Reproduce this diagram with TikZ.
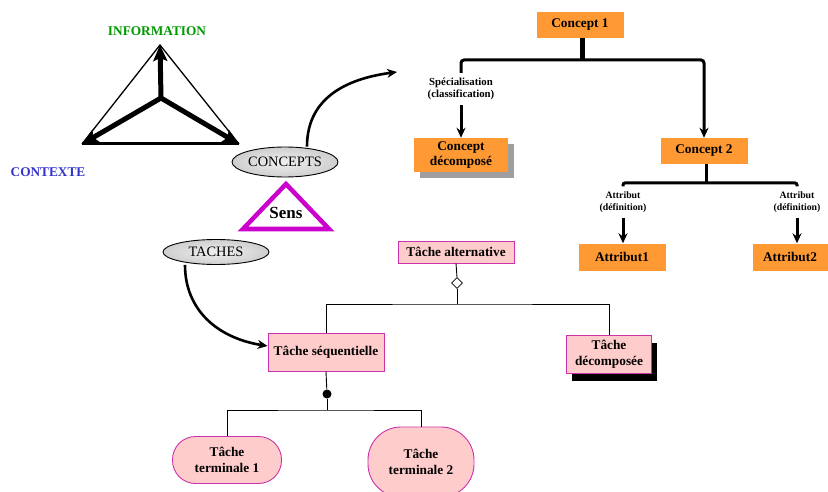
\documentclass[tikz,border=0pt]{standalone}
\usepackage{fontspec}
\setmainfont{Liberation Serif}
\usepackage{xcolor}
\usetikzlibrary{shapes,arrows,arrows.meta,positioning,shadows}

\definecolor{conceptorange}{RGB}{255,153,51}
\definecolor{tachepink}{RGB}{255,204,204}
\definecolor{tacheborder}{RGB}{204,51,170}
\definecolor{sensmagenta}{RGB}{204,0,204}
\definecolor{infogreen}{RGB}{0,153,0}
\definecolor{contexteblue}{RGB}{51,51,204}

\begin{document}
\begin{tikzpicture}[
    x=1pt, y=-1pt,
    concept/.style={rectangle, fill=conceptorange, minimum width=87pt, minimum height=26pt, inner sep=2pt, align=center, font=\bfseries\fontsize{13.3}{15}\selectfont},
    tache/.style={rectangle, draw=tacheborder, fill=tachepink, line width=0.9pt, inner sep=2pt, align=center, font=\bfseries\fontsize{13.3}{16}\selectfont},
    terminal/.style={tache, rounded corners=23pt, minimum width=109pt, minimum height=47pt},
    oval/.style={ellipse, draw, line width=0.9pt, inner color=gray!12, outer color=gray!38, minimum width=106pt, inner sep=0pt, font=\fontsize{14.4}{16}\selectfont},
    lbl/.style={align=center, inner sep=5pt, font=\bfseries\fontsize{10.8}{12}\selectfont},
    title/.style={font=\bfseries\fontsize{13.3}{15}\selectfont},
    thickarrow/.style={line width=5pt, -{Stealth[length=16pt, width=14pt, inset=3pt]}},
    curvearrow/.style={line width=2.6pt, -{Stealth[length=10pt, width=9pt]}},
    branch/.style={line width=3pt},
    branch arrow/.style={branch, -{Stealth[length=10pt, width=9pt]}},
    link/.style={line width=0.9pt}
]
    \useasboundingbox (0,0) rectangle (828,492);
    \clip (0,0) rectangle (828,492);

    \coordinate (tritop) at (160,45);
    \coordinate (trileft) at (82,144);
    \coordinate (triright) at (239,144);
    \coordinate (tricentre) at (161,98);
    \draw[line width=1.3pt] (trileft) -- (tritop) -- (triright);
    \draw[line width=3pt] (trileft) -- (triright);
    \draw[thickarrow] (tricentre) -- (tritop);
    \draw[thickarrow] (tricentre) -- (trileft);
    \draw[thickarrow] (tricentre) -- (triright);

    \node[title, text=infogreen] (information) at (157,31) {INFORMATION};
    \node[title, text=contexteblue] (contexte) at (48,172) {CONTEXTE};

    \node[oval, minimum height=30pt] (concepts) at (285,162) {CONCEPTS};
    \node[oval, minimum height=25pt] (taches) at (216,252) {TACHES};
    \node[font=\bfseries\fontsize{17}{19}\selectfont] (sens) at (286,213) {Sens};
    \draw[sensmagenta, line width=4.5pt] (286,184) -- (329,229) -- (243,229) -- cycle;

    \node[concept] (concept1) at (580,25) {Concept 1};
    \node[lbl] (spec) at (461,89) {Spécialisation\\(classification)};
    \node[concept, minimum width=94pt, minimum height=34pt, drop shadow={shadow xshift=6pt, shadow yshift=-6pt, fill=gray!75, opacity=1}] (conceptdec) at (461,155) {Concept\\décomposé};
    \node[concept] (concept2) at (704,151) {Concept 2};
    \node[lbl, font=\bfseries\fontsize{9.8}{12}\selectfont] (defA) at (623,202) {Attribut\\(définition)};
    \node[lbl, font=\bfseries\fontsize{9.8}{12}\selectfont] (defB) at (797,202) {Attribut\\(définition)};
    \node[concept, minimum height=27pt] (attr1) at (622,257) {Attribut1};
    \node[concept, minimum width=75pt, minimum height=27pt] (attr2) at (790,257) {Attribut2};

    \coordinate (c1fork) at (582,60);
    \coordinate (c2fork) at (706,183);
    \draw[line width=5pt] (c1fork |- concept1.south) -- (c1fork);
    \draw[branch arrow, rounded corners=3pt] (spec.north) |- (c1fork) -| (concept2.north);
    \draw[branch arrow] (spec.south) -- (conceptdec.north);
    \draw[branch] (c2fork |- concept2.south) -- (c2fork);
    \draw[branch, rounded corners=2pt] (defA.north) |- (c2fork) -| (defB.north);
    \draw[branch arrow] (defA.south) -- (defA.south |- attr1.north);
    \draw[branch arrow] (defB.south) -- (defB.south |- attr2.north);

    \coordinate (concepttip) at (397,72);
    \draw[curvearrow] ([xshift=22pt]concepts.north) .. controls +(0,-52) and +(-45,6) .. (concepttip);

    \node[tache, minimum width=116pt, minimum height=22pt] (tachealt) at (456,252) {Tâche alternative};
    \node[diamond, draw, fill=white, line width=0.8pt, inner sep=0pt, minimum size=11pt] (choice) at (457,283) {};
    \node[tache, minimum width=116pt, minimum height=38pt] (tacheseq) at (326,352) {Tâche séquentielle};
    \node[tache, minimum width=85pt, minimum height=38pt, drop shadow={shadow xshift=5pt, shadow yshift=-8pt, fill=black, opacity=1}] (tachedec) at (609,354) {Tâche\\décomposée};
    \node[circle, fill, inner sep=0pt, minimum size=9pt] (seqdot) at (327,394) {};
    \node[terminal] (term1) at (227,460) {Tâche\\terminale 1};
    \node[terminal, minimum width=106pt, minimum height=70pt, rounded corners=33pt] (term2) at (421,462) {Tâche\\terminale 2};

    \coordinate (altfork) at (457,304);
    \coordinate (seqfork) at (327,410);
    \draw[link] (tachealt.south) -- (choice.north);
    \draw[link] (choice.south) -- (altfork);
    \draw[link] (tacheseq.north) |- (altfork) -| (tachedec.north);
    \draw[link] (tacheseq.south) -- (seqdot);
    \draw[link] (seqdot) -- (seqfork);
    \draw[link] (term1.north) |- (seqfork) -| (term2.north);

    \draw[curvearrow] ([xshift=-31pt]taches.south) .. controls +(0,45) and +(-50,-8) .. ([yshift=6pt]tacheseq.west);
\end{tikzpicture}
\end{document}
